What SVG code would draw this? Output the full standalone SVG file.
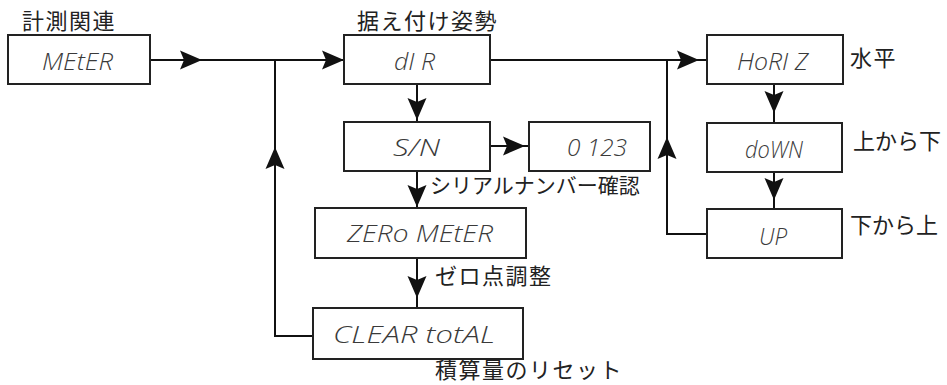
<svg xmlns="http://www.w3.org/2000/svg" xmlns:xlink="http://www.w3.org/1999/xlink" width="947" height="385" viewBox="0 0 947 385">
<style>
.box{fill:#fff;stroke:#222;stroke-width:2}
.disp{font-family:"Open Sans","DejaVu Sans",sans-serif;font-weight:300;font-style:italic;font-size:24px;fill:#3a3a3a}
.lbl{font-family:"Noto Sans CJK JP","Noto Sans",sans-serif;font-size:22px;fill:#222;letter-spacing:1.5px}
.tight{letter-spacing:0;font-size:21px}
.ln{fill:none;stroke:#111;stroke-width:2}
</style>
<defs>
<path id="ah" d="M0,0 L-22,-9.5 L-18,0 L-22,9.5 Z" fill="#111"/>
</defs>
<rect width="947" height="385" fill="#fff"/>
<g id="connectors">
<path class="ln" d="M150,60 H344"/>
<path class="ln" d="M275,60 V336 H313"/>
<path class="ln" d="M490,60 H707"/>
<path class="ln" d="M667,60 V234 H707"/>
<path class="ln" d="M417,84 V122"/>
<path class="ln" d="M417,171 V208"/>
<path class="ln" d="M417,258 V308"/>
<path class="ln" d="M490,146 H529"/>
<path class="ln" d="M774,84 V123"/>
<path class="ln" d="M774,172 V209"/>
<use xlink:href="#ah" transform="translate(202,60)"/>
<use xlink:href="#ah" transform="translate(344,60)"/>
<use xlink:href="#ah" transform="translate(699,60)"/>
<use xlink:href="#ah" transform="translate(417,120) rotate(90)"/>
<use xlink:href="#ah" transform="translate(417,207) rotate(90)"/>
<use xlink:href="#ah" transform="translate(417,298) rotate(90)"/>
<use xlink:href="#ah" transform="translate(525,146)"/>
<use xlink:href="#ah" transform="translate(774,113) rotate(90)"/>
<use xlink:href="#ah" transform="translate(774,200) rotate(90)"/>
<use xlink:href="#ah" transform="translate(275,147) rotate(-90)"/>
<use xlink:href="#ah" transform="translate(667,137) rotate(-90)"/>
</g>
<g id="meter">
<text class="lbl" x="22" y="29">計測関連</text>
<rect class="box" x="8" y="35" width="142" height="49"/>
<text class="disp" x="42" y="70" textLength="71" lengthAdjust="spacingAndGlyphs">MEtER</text>
</g>
<g id="dir">
<text class="lbl" x="357" y="29">据え付け姿勢</text>
<rect class="box" x="344" y="35" width="146" height="49"/>
<text class="disp" x="394" y="70" textLength="41" lengthAdjust="spacingAndGlyphs">dI R</text>
</g>
<g id="horiz">
<rect class="box" x="707" y="35" width="136" height="49"/>
<text class="disp" x="737" y="70" textLength="71" lengthAdjust="spacingAndGlyphs">HoRI Z</text>
<text class="lbl" x="850" y="66">水平</text>
</g>
<g id="down">
<rect class="box" x="707" y="123" width="135" height="49"/>
<text class="disp" x="745" y="158" textLength="58" lengthAdjust="spacingAndGlyphs">doWN</text>
<text class="lbl tight" x="853" y="149" style="font-size:22px">上から下</text>
</g>
<g id="up">
<rect class="box" x="707" y="209" width="135" height="49"/>
<text class="disp" x="759" y="245" textLength="28" lengthAdjust="spacingAndGlyphs">UP</text>
<text class="lbl tight" x="850" y="233" style="font-size:22px">下から上</text>
</g>
<g id="sn">
<rect class="box" x="344" y="122" width="146" height="49"/>
<text class="disp" x="393" y="156" textLength="47" lengthAdjust="spacingAndGlyphs">S/N</text>
<text class="lbl tight" x="430" y="193">シリアルナンバー確認</text>
</g>
<g id="serial">
<rect class="box" x="529" y="122" width="121" height="49"/>
<text class="disp" x="567" y="156" textLength="60" lengthAdjust="spacingAndGlyphs">0 123</text>
</g>
<g id="zero">
<rect class="box" x="315" y="208" width="211" height="50"/>
<text class="disp" x="347" y="242" textLength="146" lengthAdjust="spacingAndGlyphs">ZERo MEtER</text>
<text class="lbl" x="435" y="284">ゼロ点調整</text>
</g>
<g id="clear">
<rect class="box" x="313" y="308" width="210" height="51"/>
<text class="disp" x="333" y="343" textLength="162" lengthAdjust="spacingAndGlyphs">CLEAR totAL</text>
<text class="lbl" x="435" y="378">積算量のリセット</text>
</g>
</svg>
